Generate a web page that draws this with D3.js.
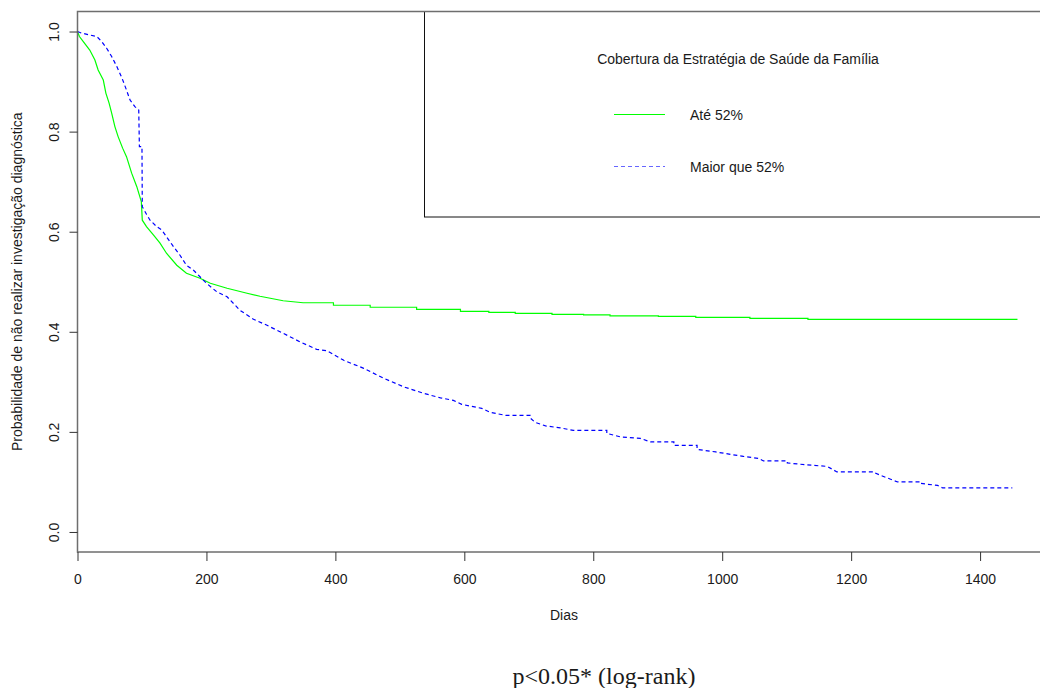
<!DOCTYPE html>
<html>
<head>
<meta charset="utf-8">
<script src="https://cdn.jsdelivr.net/npm/d3@7"></script>
<style>
  html, body { margin: 0; padding: 0; background: #fff; }
  svg { display: block; }
  text { font-family: "Liberation Sans", Arial, sans-serif; fill: #1a1a1a; }
</style>
</head>
<body>
<svg id="chart" width="1040" height="688"></svg>
<script>
// Kaplan–Meier estimates: time (days) and survival probability at each step
const ateDays = [0, 3, 9, 19, 27, 32, 40, 44, 49, 53, 58, 63, 70, 76, 84, 92, 95, 99, 100.5, 107, 118, 128, 138, 154, 169, 190, 206, 232, 263, 283, 299, 319, 350, 397, 454, 526, 594, 638, 679, 736, 785, 826, 901, 959, 1043, 1133, 1458];
const ateSurv = [1.0, 0.99, 0.98, 0.963, 0.943, 0.923, 0.903, 0.877, 0.857, 0.837, 0.81, 0.79, 0.767, 0.75, 0.717, 0.69, 0.677, 0.66, 0.623, 0.61, 0.593, 0.577, 0.557, 0.533, 0.517, 0.507, 0.497, 0.487, 0.477, 0.471, 0.467, 0.462, 0.458, 0.453, 0.449, 0.445, 0.441, 0.439, 0.437, 0.435, 0.434, 0.432, 0.431, 0.429, 0.427, 0.425, 0.425];

const maiorDays = [0, 6, 19, 30, 37.5, 45, 53, 61, 69, 76, 81.5, 89, 95, 96, 100, 100.5, 107, 112.5, 123, 131, 138, 149, 159, 169, 180, 190, 200, 216, 232, 252, 273, 294, 319, 345, 371, 387, 413, 444, 475, 506, 537, 563, 583, 596, 627, 640, 664, 702, 710, 726, 749, 769, 821, 842, 873, 889, 925, 961, 990, 1013, 1033, 1057, 1064, 1101, 1132, 1163, 1178, 1235, 1246, 1272, 1308, 1334, 1342, 1450];
const maiorSurv = [1.0, 0.997, 0.993, 0.99, 0.98, 0.967, 0.95, 0.93, 0.907, 0.883, 0.863, 0.85, 0.843, 0.77, 0.77, 0.65, 0.635, 0.623, 0.61, 0.603, 0.59, 0.57, 0.553, 0.533, 0.523, 0.51, 0.497, 0.48, 0.47, 0.443, 0.425, 0.413, 0.397, 0.38, 0.365, 0.362, 0.343, 0.327, 0.307, 0.29, 0.277, 0.268, 0.263, 0.255, 0.247, 0.239, 0.233, 0.228, 0.219, 0.212, 0.208, 0.203, 0.197, 0.19, 0.187, 0.18, 0.173, 0.165, 0.16, 0.155, 0.151, 0.147, 0.142, 0.138, 0.134, 0.131, 0.12, 0.119, 0.113, 0.1, 0.097, 0.093, 0.088, 0.088];

const xTicks = [0, 200, 400, 600, 800, 1000, 1200, 1400];
const yTicks = [0.0, 0.2, 0.4, 0.6, 0.8, 1.0];

const seriesNames = ["Até 52%", "Maior que 52%"];
const seriesColors = ["#00ff00", "#0000ff"];
const legendTitle = "Cobertura da Estratégia de Saúde da Família";
const xTitle = "Dias";
const yTitle = "Probabilidade de não realizar investigação diagnóstica";
const noteText = "p<0.05* (log-rank)";

const svg = d3.select("#chart");

// plotting region
const plot = { left: 77.5, right: 1051, top: 11.5, bottom: 552 };
const fontSize = 14;

const x = d3.scaleLinear().domain([0, 1510]).range([plot.left, plot.right]);
const y = d3.scaleLinear().domain([-0.04, 1.04]).range([plot.bottom, plot.top]);

// Where events are dense the many tiny KM steps read as a continuous slope;
// sparse events keep their explicit right-continuous step.
function kmPath(days, surv, denseGap) {
  const p = d3.path();
  p.moveTo(x(days[0]), y(surv[0]));
  for (let i = 1; i < days.length; i++) {
    if (days[i] - days[i - 1] <= denseGap) {
      p.lineTo(x(days[i]), y(surv[i]));
    } else {
      p.lineTo(x(days[i]), y(surv[i - 1]));
      p.lineTo(x(days[i]), y(surv[i]));
    }
  }
  return p.toString();
}

const curves = [
  { days: ateDays, surv: ateSurv, color: seriesColors[0], dash: null },
  { days: maiorDays, surv: maiorSurv, color: seriesColors[1], dash: "4,3" }
];

svg.append("g")
  .selectAll("path")
  .data(curves)
  .join("path")
  .attr("d", d => kmPath(d.days, d.surv, 35))
  .attr("fill", "none")
  .attr("stroke", d => d.color)
  .attr("stroke-width", 1.2)
  .attr("stroke-dasharray", d => d.dash);

// legend box
const legend = svg.append("g");
legend.append("rect")
  .attr("x", 424.5).attr("y", plot.top)
  .attr("width", plot.right - 424.5).attr("height", 217 - plot.top)
  .attr("fill", "none").attr("stroke", "#111").attr("stroke-width", 1);

legend.append("text")
  .attr("x", 738).attr("y", 64)
  .attr("text-anchor", "middle")
  .attr("font-size", fontSize)
  .text(legendTitle);

const legendRows = [114.5, 166.5];
seriesNames.forEach((name, i) => {
  legend.append("line")
    .attr("x1", 614).attr("x2", 665)
    .attr("y1", legendRows[i]).attr("y2", legendRows[i])
    .attr("stroke", seriesColors[i])
    .attr("stroke-opacity", i === 1 ? 0.6 : 1)
    .attr("stroke-width", 1.2)
    .attr("stroke-dasharray", curves[i].dash);
  legend.append("text")
    .attr("x", 690).attr("y", legendRows[i] + 5)
    .attr("font-size", fontSize)
    .text(name);
});

// plot frame
svg.append("rect")
  .attr("x", plot.left).attr("y", plot.top)
  .attr("width", plot.right - plot.left).attr("height", plot.bottom - plot.top)
  .attr("fill", "none").attr("stroke", "#6e6e6e").attr("stroke-width", 1.5);

// x axis
const xAxis = svg.append("g")
  .attr("transform", `translate(0,${plot.bottom})`)
  .call(d3.axisBottom(x).tickValues(xTicks).tickFormat(d3.format("d")).tickSize(9).tickSizeOuter(0).tickPadding(13));
xAxis.select(".domain").remove();
xAxis.selectAll("line").attr("stroke", "#333");
xAxis.selectAll("text").attr("font-size", fontSize).attr("font-family", "Liberation Sans, Arial, sans-serif").attr("fill", "#1a1a1a");

// y axis (labels rotated as in base graphics)
const yAxis = svg.append("g")
  .attr("transform", `translate(${plot.left},0)`)
  .call(d3.axisLeft(y).tickValues(yTicks).tickFormat(d3.format(".1f")).tickSize(8).tickSizeOuter(0));
yAxis.select(".domain").remove();
yAxis.selectAll("line").attr("stroke", "#333");
yAxis.selectAll("text")
  .attr("font-size", fontSize)
  .attr("font-family", "Liberation Sans, Arial, sans-serif")
  .attr("fill", "#1a1a1a")
  .attr("x", null).attr("dy", null)
  .attr("text-anchor", "middle")
  .attr("transform", `translate(${58.5 - plot.left},0) rotate(-90)`);

// axis titles
svg.append("text")
  .attr("x", 564).attr("y", 619.5)
  .attr("text-anchor", "middle")
  .attr("font-size", fontSize)
  .text(xTitle);

svg.append("text")
  .attr("transform", `translate(22,${(plot.top + plot.bottom) / 2}) rotate(-90)`)
  .attr("text-anchor", "middle")
  .attr("font-size", fontSize)
  .text(yTitle);

// test note below the chart
svg.append("text")
  .attr("x", 604).attr("y", 684)
  .attr("text-anchor", "middle")
  .attr("font-size", 24)
  .style("font-family", "'Liberation Serif', 'Times New Roman', serif")
  .text(noteText);
</script>
</body>
</html>
